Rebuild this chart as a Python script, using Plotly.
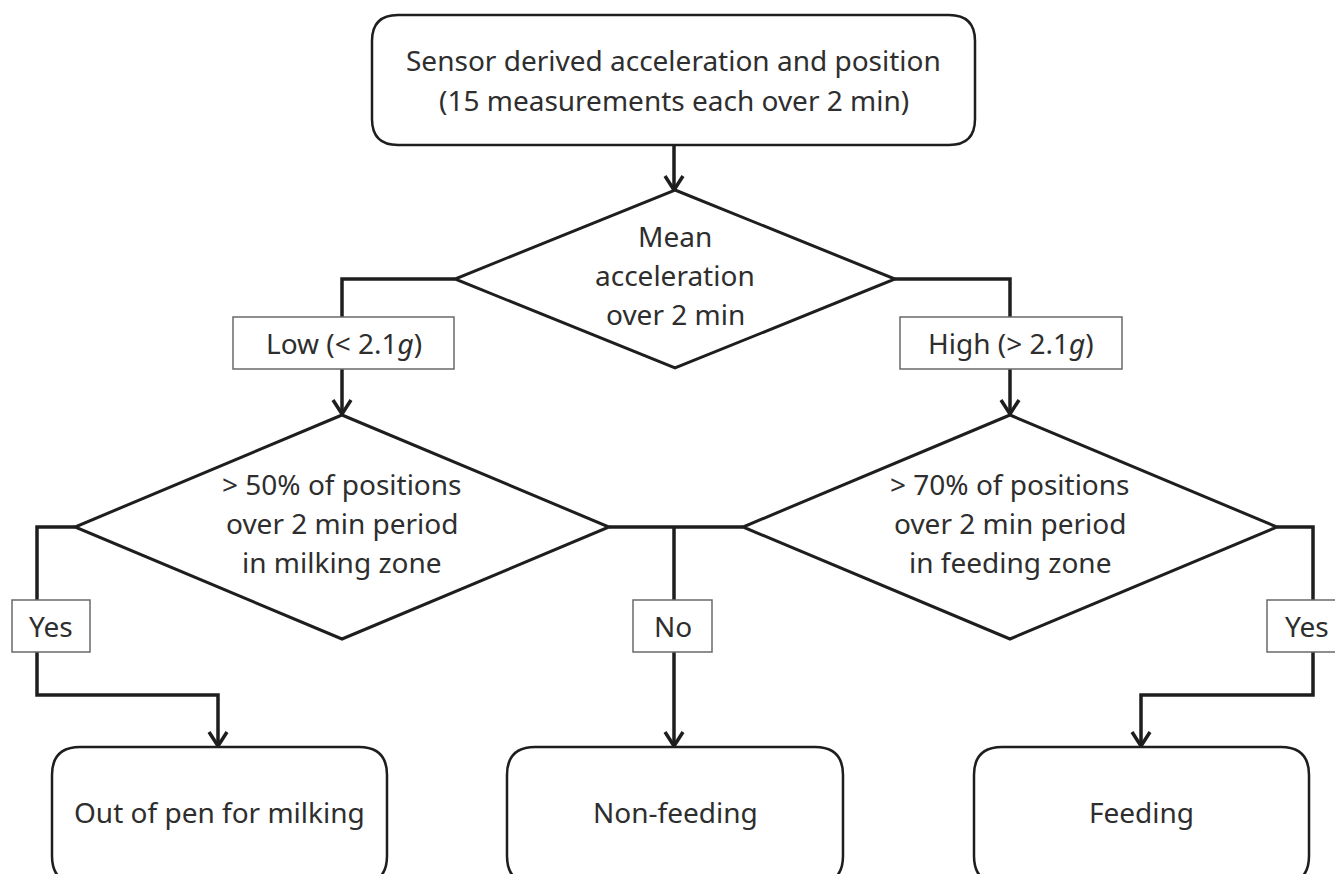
import plotly.graph_objects as go

# ---------------- content ----------------
start_label = ["Sensor derived acceleration and position", "(15 measurements each over 2 min)"]
decision_labels = [
    ["Mean", "acceleration", "over 2 min"],
    ["> 50% of positions", "over 2 min period", "in milking zone"],
    ["> 70% of positions", "over 2 min period", "in feeding zone"],
]
branch_labels = ["Low (< 2.1<i>g</i>)", "High (> 2.1<i>g</i>)", "Yes", "No", "Yes"]
outcome_labels = ["Out of pen for milking", "Non-feeding", "Feeding"]

# ---------------- geometry (pixels, y downwards) ----------------
W, H = 1335, 874
FONT = "Noto Sans"
FS = 28
TXT = "#2e2e2e"
LINE = "#1e1e1e"

start_box = (372, 15, 975, 145)
decisions = [  # cx, cy, half-width, half-height
    (675, 279, 220, 89),
    (342, 527, 267, 112),
    (1010, 527, 267, 112),
]
branch_boxes = [
    (233, 317, 454, 369),
    (900, 317, 1122, 369),
    (12, 600, 90, 652),
    (633, 600, 712, 652),
    (1267, 600, 1346, 652),
]
outcome_boxes = [
    (52, 747, 387, 884),
    (507, 747, 843, 884),
    (974, 747, 1309, 884),
]
connectors = [
    [(674, 145), (674, 191)],
    [(455, 279), (342, 279), (342, 317)],
    [(342, 369), (342, 415)],
    [(895, 279), (1010, 279), (1010, 317)],
    [(1010, 369), (1010, 415)],
    [(75, 527), (37, 527), (37, 600)],
    [(37, 652), (37, 695), (218, 695), (218, 747)],
    [(609, 527), (743, 527)],
    [(674, 527), (674, 600)],
    [(674, 652), (674, 747)],
    [(1277, 527), (1313, 527), (1313, 600)],
    [(1313, 652), (1313, 695), (1141, 695), (1141, 747)],
]
arrow_tips = [(674, 191), (342, 415), (1010, 415), (218, 747), (674, 747), (1141, 747)]


def rounded_path(x0, y0, x1, y1, r):
    return (f"M {x0+r},{y0} L {x1-r},{y0} Q {x1},{y0} {x1},{y0+r} "
            f"L {x1},{y1-r} Q {x1},{y1} {x1-r},{y1} L {x0+r},{y1} "
            f"Q {x0},{y1} {x0},{y1-r} L {x0},{y0+r} Q {x0},{y0} {x0+r},{y0} Z")


shapes = []
annotations = []


def add_text(x, y, text):
    annotations.append(dict(x=x, y=y, xref="x", yref="y", text=text, showarrow=False,
                            xanchor="center", yanchor="middle",
                            font=dict(family=FONT, size=FS, color=TXT)))


# connectors
for pts in connectors:
    path = "M " + " L ".join(f"{x},{y}" for x, y in pts)
    shapes.append(dict(type="path", path=path, xref="x", yref="y",
                       line=dict(color=LINE, width=3.5), layer="above"))
# arrowheads
for x, y in arrow_tips:
    path = f"M {x-9},{y-15} L {x},{y-1} L {x+9},{y-15}"
    shapes.append(dict(type="path", path=path, xref="x", yref="y",
                       line=dict(color=LINE, width=3.5), layer="above"))

# start box
x0, y0, x1, y1 = start_box
shapes.append(dict(type="path", path=rounded_path(x0, y0, x1, y1, 26), xref="x", yref="y",
                   fillcolor="white", line=dict(color=LINE, width=2.5), layer="above"))
add_text((x0 + x1) / 2, 60, start_label[0])
add_text((x0 + x1) / 2, 100, start_label[1])

# decisions
for (cx, cy, hw, hh), lines in zip(decisions, decision_labels):
    path = f"M {cx},{cy-hh} L {cx+hw},{cy} L {cx},{cy+hh} L {cx-hw},{cy} Z"
    shapes.append(dict(type="path", path=path, xref="x", yref="y", fillcolor="white",
                       line=dict(color=LINE, width=3), layer="above"))
    for i, t in enumerate(lines):
        add_text(cx, cy - 4 + (i - 1) * 39, t)

# branch label boxes
for (bx0, by0, bx1, by1), t in zip(branch_boxes, branch_labels):
    shapes.append(dict(type="rect", x0=bx0, y0=by0, x1=bx1, y1=by1, xref="x", yref="y",
                       fillcolor="white", line=dict(color="#6a6a6a", width=1.5), layer="above"))
    add_text((bx0 + bx1) / 2, (by0 + by1) / 2, t)

# outcome boxes
for (ox0, oy0, ox1, oy1), t in zip(outcome_boxes, outcome_labels):
    shapes.append(dict(type="path", path=rounded_path(ox0, oy0, ox1, oy1, 28), xref="x", yref="y",
                       fillcolor="white", line=dict(color=LINE, width=2.5), layer="above"))
    add_text((ox0 + ox1) / 2, (oy0 + oy1) / 2 - 4, t)

fig = go.Figure()
fig.add_trace(go.Scatter(x=[0, W], y=[0, H], mode="markers", marker=dict(opacity=0),
                         hoverinfo="skip", showlegend=False))
fig.update_layout(
    width=W, height=H, autosize=False,
    margin=dict(l=0, r=0, t=0, b=0),
    paper_bgcolor="white", plot_bgcolor="white",
    xaxis=dict(range=[0, W], visible=False, fixedrange=True),
    yaxis=dict(range=[H, 0], visible=False, fixedrange=True),
    shapes=shapes, annotations=annotations, showlegend=False,
)
fig.write_html("out.html", config={"displayModeBar": False},
               post_script="document.body.style.margin='0';document.body.style.overflow='hidden';")
